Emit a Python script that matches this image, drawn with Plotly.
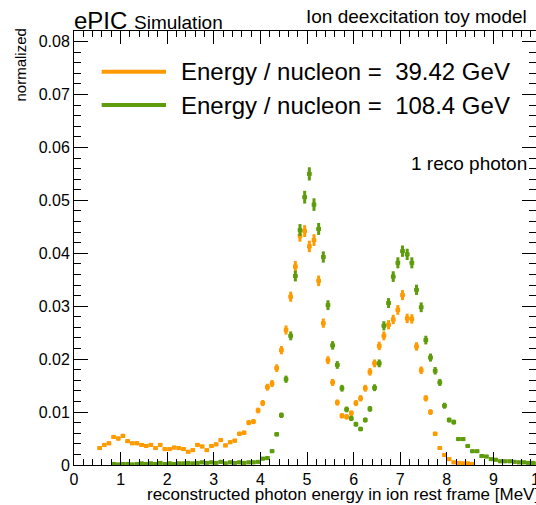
import numpy as np
import plotly.graph_objects as go

# ---------------- data ----------------
orange_E = [0.55, 0.65, 0.75, 0.85, 0.95, 1.05, 1.15, 1.25, 1.35, 1.45, 1.55, 1.65, 1.75, 1.85, 1.95,
            2.05, 2.15, 2.25, 2.35, 2.45, 2.55, 2.65, 2.75, 2.85, 2.95, 3.05, 3.15, 3.25, 3.35, 3.45,
            3.55, 3.65, 3.75, 3.85, 3.95, 4.05, 4.15, 4.25, 4.35, 4.45, 4.55, 4.65, 4.75, 4.85, 4.95,
            5.05, 5.15, 5.25, 5.35, 5.45, 5.55, 5.65, 5.75, 5.85, 5.95, 6.05, 6.15, 6.25, 6.35, 6.45,
            6.55, 6.65, 6.75, 6.85, 6.95, 7.05, 7.15, 7.25, 7.35, 7.45, 7.55, 7.65, 7.75, 7.85, 7.95,
            8.05, 8.15, 8.25, 8.35, 8.45, 8.55]
orange_val = [0.0032, 0.0038, 0.0041, 0.0053, 0.0050, 0.0055, 0.0045, 0.0041, 0.0041, 0.0038,
              0.0036, 0.0038, 0.0032, 0.0038, 0.0030, 0.0030, 0.0033, 0.0032, 0.0030, 0.0025,
              0.0028, 0.0038, 0.0035, 0.0028, 0.0036, 0.0039, 0.0047, 0.0037, 0.0043, 0.0046,
              0.0059, 0.0061, 0.0080, 0.0082, 0.0103, 0.0117, 0.0147, 0.0154, 0.0183, 0.0217,
              0.0255, 0.0318, 0.0375, 0.0433, 0.0442, 0.0413, 0.0425, 0.0348, 0.0268, 0.0198,
              0.0156, 0.0118, 0.0093, 0.0091, 0.0098, 0.0117, 0.0126, 0.0145, 0.0176, 0.0192,
              0.0225, 0.0244, 0.0265, 0.0275, 0.0293, 0.0321, 0.0277, 0.0276, 0.0224, 0.0179,
              0.0126, 0.0100, 0.0059, 0.0032, 0.0019, 0.0011, 0.0005, 0.0004, 0.0003, 0.0003,
              0.0002]

green_E = [0.85, 0.95, 1.05, 1.15, 1.25, 1.35, 1.45, 1.55, 1.65, 1.75, 1.85, 1.95,
           2.05, 2.15, 2.25, 2.35, 2.45, 2.55, 2.65, 2.75, 2.85, 2.95, 3.05, 3.15, 3.25, 3.35, 3.45,
           3.55, 3.65, 3.75, 3.85, 3.95, 4.05, 4.15, 4.25, 4.35, 4.45, 4.55, 4.65, 4.75, 4.85, 4.95,
           5.05, 5.15, 5.25, 5.35, 5.45, 5.55, 5.65, 5.75, 5.85, 5.95, 6.05, 6.15, 6.25, 6.35, 6.45,
           6.55, 6.65, 6.75, 6.85, 6.95, 7.05, 7.15, 7.25, 7.35, 7.45, 7.55, 7.65, 7.75, 7.85, 7.95,
           8.05, 8.15, 8.25, 8.35, 8.45, 8.55, 8.65, 8.75, 8.85, 8.95, 9.05, 9.15, 9.25, 9.35, 9.45,
           9.55, 9.65, 9.75, 9.85, 9.95]
green_val = [0.0002, 0.0001, 0.0002, 0.0002, 0.0001, 0.0002, 0.0003, 0.0002, 0.0003, 0.0002,
             0.0004, 0.0002, 0.0003, 0.0002, 0.0003, 0.0003, 0.0004, 0.0003, 0.0004, 0.0005,
             0.0004, 0.0005, 0.0004, 0.0006, 0.0003, 0.0005, 0.0004, 0.0005, 0.0004, 0.0005,
             0.0005, 0.0006, 0.0012, 0.0013, 0.0026, 0.0058, 0.0094, 0.0162, 0.0244, 0.0357,
             0.0444, 0.0506, 0.0550, 0.0492, 0.0446, 0.0393, 0.0302, 0.0226, 0.0189, 0.0145,
             0.0105, 0.0088, 0.0077, 0.0068, 0.0085, 0.0106, 0.0146, 0.0192, 0.0263, 0.0306,
             0.0356, 0.0382, 0.0404, 0.0398, 0.0382, 0.0331, 0.0298, 0.0236, 0.0203, 0.0178,
             0.0156, 0.0112, 0.0085, 0.0081, 0.0049, 0.0049, 0.0036, 0.0026, 0.0026, 0.0017,
             0.0016, 0.0011, 0.0010, 0.0007, 0.0007, 0.0007, 0.0006, 0.0005, 0.0005, 0.0004,
             0.0004, 0.0003]

BIN_HALF_WIDTH = 0.05
ENTRY_WEIGHT = 2.85e-5   # normalisation weight per entry -> Poisson error sqrt(v * w)

series = [
    ("Energy / nucleon =\u00a0\u00a039.42 GeV", orange_E, orange_val, "#FF9A00"),
    ("Energy / nucleon =\u00a0\u00a0108.4 GeV", green_E, green_val, "#5E9C0B"),
]

FONT = "Liberation Sans, Arial, Helvetica, sans-serif"

fig = go.Figure()
for name, E, v, col in series:
    v = np.array(v)
    fig.add_trace(go.Scatter(
        x=E, y=v, mode="markers", name=name, showlegend=False,
        marker=dict(symbol="square", size=4, color=col, line=dict(width=0)),
        error_y=dict(type="data", array=np.sqrt(v * ENTRY_WEIGHT), width=0, thickness=3, color=col),
        error_x=dict(type="constant", value=BIN_HALF_WIDTH, width=0, thickness=3.5, color=col),
    ))

# ---------------- layout ----------------
L, R, T, B = 74, 0, 31, 40
W, H = 536, 505
pw, ph = W - L - R, H - T - B

def px(x):
    return (x - L) / pw

def py(y):
    return (H - B - y) / ph

fig.update_layout(
    width=W, height=H, margin=dict(l=L, r=R, t=T, b=B, pad=0),
    paper_bgcolor="white", plot_bgcolor="white",
    font=dict(family=FONT, color="black"), showlegend=False,
)
axis_common = dict(showline=True, linecolor="black", linewidth=1, mirror="allticks",
                   ticks="inside", tickcolor="black", tickwidth=1, showgrid=False,
                   zeroline=False, tickfont=dict(size=16, family=FONT, color="black"))
fig.update_xaxes(range=[0, pw / 46.6], dtick=1, tick0=0, ticklen=13,
                 minor=dict(ticks="inside", ticklen=6, dtick=0.2, tick0=0,
                            tickcolor="black", showgrid=False),
                 **axis_common)
fig.update_yaxes(range=[0, 0.082], dtick=0.01, tick0=0, ticklen=14,
                 minor=dict(ticks="inside", ticklen=7, dtick=0.002, tick0=0,
                            tickcolor="black", showgrid=False),
                 **axis_common)

# legend drawn by hand (ROOT style)
legend_y = [71.7, 105.0]
for (name, E, v, col), yy in zip(series, legend_y):
    fig.add_shape(type="line", xref="paper", yref="paper",
                  x0=px(101.7), x1=px(166), y0=py(yy), y1=py(yy),
                  line=dict(color=col, width=4))
    fig.add_annotation(text=name, xref="paper", yref="paper", x=px(179), y=py(yy),
                       xanchor="left", yanchor="middle", showarrow=False,
                       font=dict(size=24, family=FONT, color="black"))

ann = dict(xref="paper", yref="paper", showarrow=False)
fig.add_annotation(text="1 reco photon", x=px(529), y=py(163), xanchor="right",
                   yanchor="middle", font=dict(size=19), **ann)
fig.add_annotation(text="Ion deexcitation toy model", x=px(529), y=py(16), xanchor="right",
                   yanchor="middle", font=dict(size=19), **ann)
fig.add_annotation(text="ePIC <span style='font-size:19px'>Simulation</span>", x=px(72),
                   y=py(20), xanchor="left", yanchor="middle", font=dict(size=24), **ann)
fig.add_annotation(text="normalized", textangle=-90, x=px(20), y=py(27), xanchor="center",
                   yanchor="top", font=dict(size=15), **ann)
fig.add_annotation(text="reconstructed photon energy in ion rest frame [MeV]", x=px(541),
                   y=py(494), xanchor="right", yanchor="middle", font=dict(size=17), **ann)
fig.add_annotation(text="10", x=px(539.7), y=py(480), xanchor="center", yanchor="middle",
                   font=dict(size=16), **ann)

fig.write_html("out.html")
